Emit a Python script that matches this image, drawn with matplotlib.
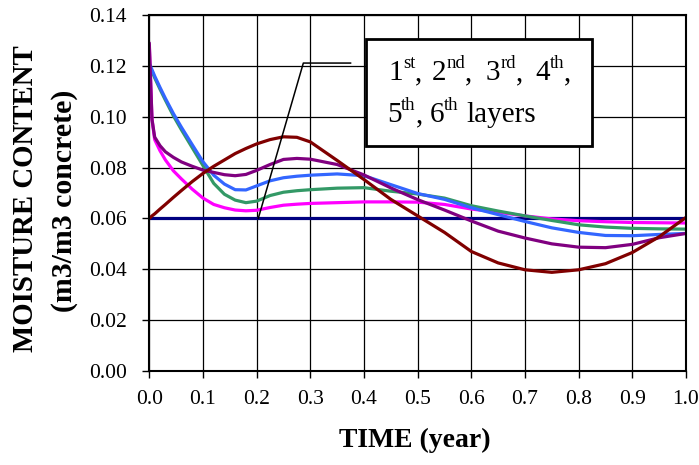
import matplotlib
matplotlib.use("Agg")
import matplotlib.pyplot as plt
from matplotlib.patches import Rectangle

plt.rcParams['font.family'] = ['Liberation Serif', 'DejaVu Serif']

# time in years
t = [0, 0.005, 0.01, 0.02, 0.03, 0.045, 0.06, 0.08, 0.1, 0.12, 0.14, 0.16,
     0.18, 0.2, 0.225, 0.25, 0.275, 0.3, 0.35, 0.4, 0.45, 0.5, 0.55, 0.6,
     0.65, 0.7, 0.75, 0.8, 0.85, 0.9, 0.95, 1.0]

layer_navy = [0.060] * len(t)
layer_maroon = [0.060, 0.0610, 0.0618, 0.0637, 0.0655, 0.0683, 0.0710, 0.0745,
                0.0777, 0.0805, 0.0830, 0.0855, 0.0875, 0.0893, 0.0910, 0.0921,
                0.0919, 0.0901, 0.0828, 0.0753, 0.0675, 0.0610, 0.0545, 0.0470,
                0.0425, 0.0398, 0.0388, 0.0398, 0.0422, 0.0466, 0.0528, 0.0604]
layer_blue = [0.1210, 0.1185, 0.1160, 0.1115, 0.1072, 0.1012, 0.0958, 0.0890,
              0.0823, 0.0770, 0.0735, 0.0713, 0.0712, 0.0728, 0.0748, 0.0760,
              0.0766, 0.0770, 0.0775, 0.0768, 0.0733, 0.0698, 0.0675, 0.0642,
              0.0615, 0.0588, 0.0563, 0.0545, 0.0533, 0.0532, 0.0537, 0.0541]
layer_green = [0.1200, 0.1178, 0.1153, 0.1108, 0.1065, 0.1003, 0.0948, 0.0878,
               0.0808, 0.0738, 0.0695, 0.0672, 0.0662, 0.0668, 0.0690, 0.0703,
               0.0709, 0.0713, 0.0719, 0.0721, 0.0707, 0.0696, 0.0680, 0.0650,
               0.0629, 0.0610, 0.0592, 0.0575, 0.0566, 0.0561, 0.0559, 0.0558]
layer_magenta = [0.1280, 0.0990, 0.0910, 0.0866, 0.0830, 0.0787, 0.0755, 0.0715,
                 0.0680, 0.0655, 0.0642, 0.0633, 0.0630, 0.0632, 0.0643, 0.0652,
                 0.0656, 0.0659, 0.0662, 0.0665, 0.0665, 0.0664, 0.0655, 0.0637,
                 0.0624, 0.0610, 0.0598, 0.0591, 0.0587, 0.0584, 0.0583, 0.0582]
layer_purple = [0.1290, 0.0990, 0.0920, 0.0886, 0.0862, 0.0840, 0.0822, 0.0805,
                0.0790, 0.0781, 0.0772, 0.0768, 0.0773, 0.0789, 0.0812, 0.0832,
                0.0836, 0.0833, 0.0812, 0.0771, 0.0720, 0.0674, 0.0633, 0.0590,
                0.0550, 0.0523, 0.0500, 0.0487, 0.0485, 0.0498, 0.0524, 0.0541]

series = [
    (layer_navy, '#000080'),
    (layer_magenta, '#FF00FF'),
    (layer_green, '#339966'),
    (layer_blue, '#3366FF'),
    (layer_purple, '#800080'),
    (layer_maroon, '#800000'),
]

# leader line from the label box to the curves
leader_x = [0.375, 0.287, 0.203]
leader_y = [0.1211, 0.1211, 0.060]

# label text: (base, superscript, trailing) per line
label_line1 = [('1', 'st', ','), ('2', 'nd', ','), ('3', 'rd', ','), ('4', 'th', ',')]
label_line2 = [('5', 'th', ','), ('6', 'th', ''), ('layers', '', '')]

fig = plt.figure(figsize=(6.99, 4.65), dpi=100)
ax = fig.add_axes([149.3 / 699, 94 / 465, 536.7 / 699, 356 / 465])

for vals, col in series:
    ax.plot(t, vals, color=col, lw=2.3, solid_capstyle='round')

ax.plot(leader_x, leader_y, color='black', lw=1.1)

ax.set_xlim(0, 1.0)
ax.set_ylim(0, 0.14)
ax.set_xticks([i / 10 for i in range(11)])
ax.set_yticks([i * 0.02 for i in range(8)])
ax.set_xticklabels(['%.1f' % (i / 10) for i in range(11)])
ax.set_yticklabels(['%.2f' % (i * 0.02) for i in range(8)])
ax.tick_params(direction='out', length=5, width=1, labelsize=15.5, colors='black')
ax.tick_params(axis='y', pad=11)
ax.tick_params(axis='x', pad=9)
ax.grid(True, color='black', lw=0.9)
ax.set_axisbelow(True)
for s in ax.spines.values():
    s.set_linewidth(1.5)

box = Rectangle((0.4038, 0.6329), 0.4216, 0.2997, transform=ax.transAxes,
                facecolor='white', edgecolor='black', lw=2, zorder=5)
ax.add_patch(box)

fig.canvas.draw()
renderer = fig.canvas.get_renderer()
W, H = 699.0, 465.0


def put(x, y, s, size, **kw):
    txt = fig.text(x / W, y / H, s, fontsize=size, va='baseline', ha='left',
                   zorder=6, **kw)
    return txt.get_window_extent(renderer=renderer).x1


# starting x of each group and baseline (pixels from bottom)
starts1 = [388.3, 431.7, 486.0, 535.0]
starts2 = [386.7, 429.3, 466.0]
for line, starts, base_y in [(label_line1, starts1, H - 80.0),
                             (label_line2, starts2, H - 122.3)]:
    for (b, sup, tr), x0 in zip(line, starts):
        x = put(x0, base_y, b, 21)
        if sup:
            x = put(x, base_y + 12, sup, 13.5)
        if tr:
            put(x, base_y, tr, 21)

fig.text(26 / W, 1 - 199 / H, 'MOISTURE CONTENT', rotation=90,
         fontsize=20.8, fontweight='bold', ha='center', va='center')
fig.text(65 / W, 1 - 201 / H, '(m3/m3 concrete)', rotation=90,
         fontsize=21.5, fontweight='bold', ha='center', va='center')
fig.text(415 / W, 1 - 440 / H, 'TIME (year)', fontsize=20,
         fontweight='bold', ha='center', va='center')

fig.savefig('out.png', dpi=100)
